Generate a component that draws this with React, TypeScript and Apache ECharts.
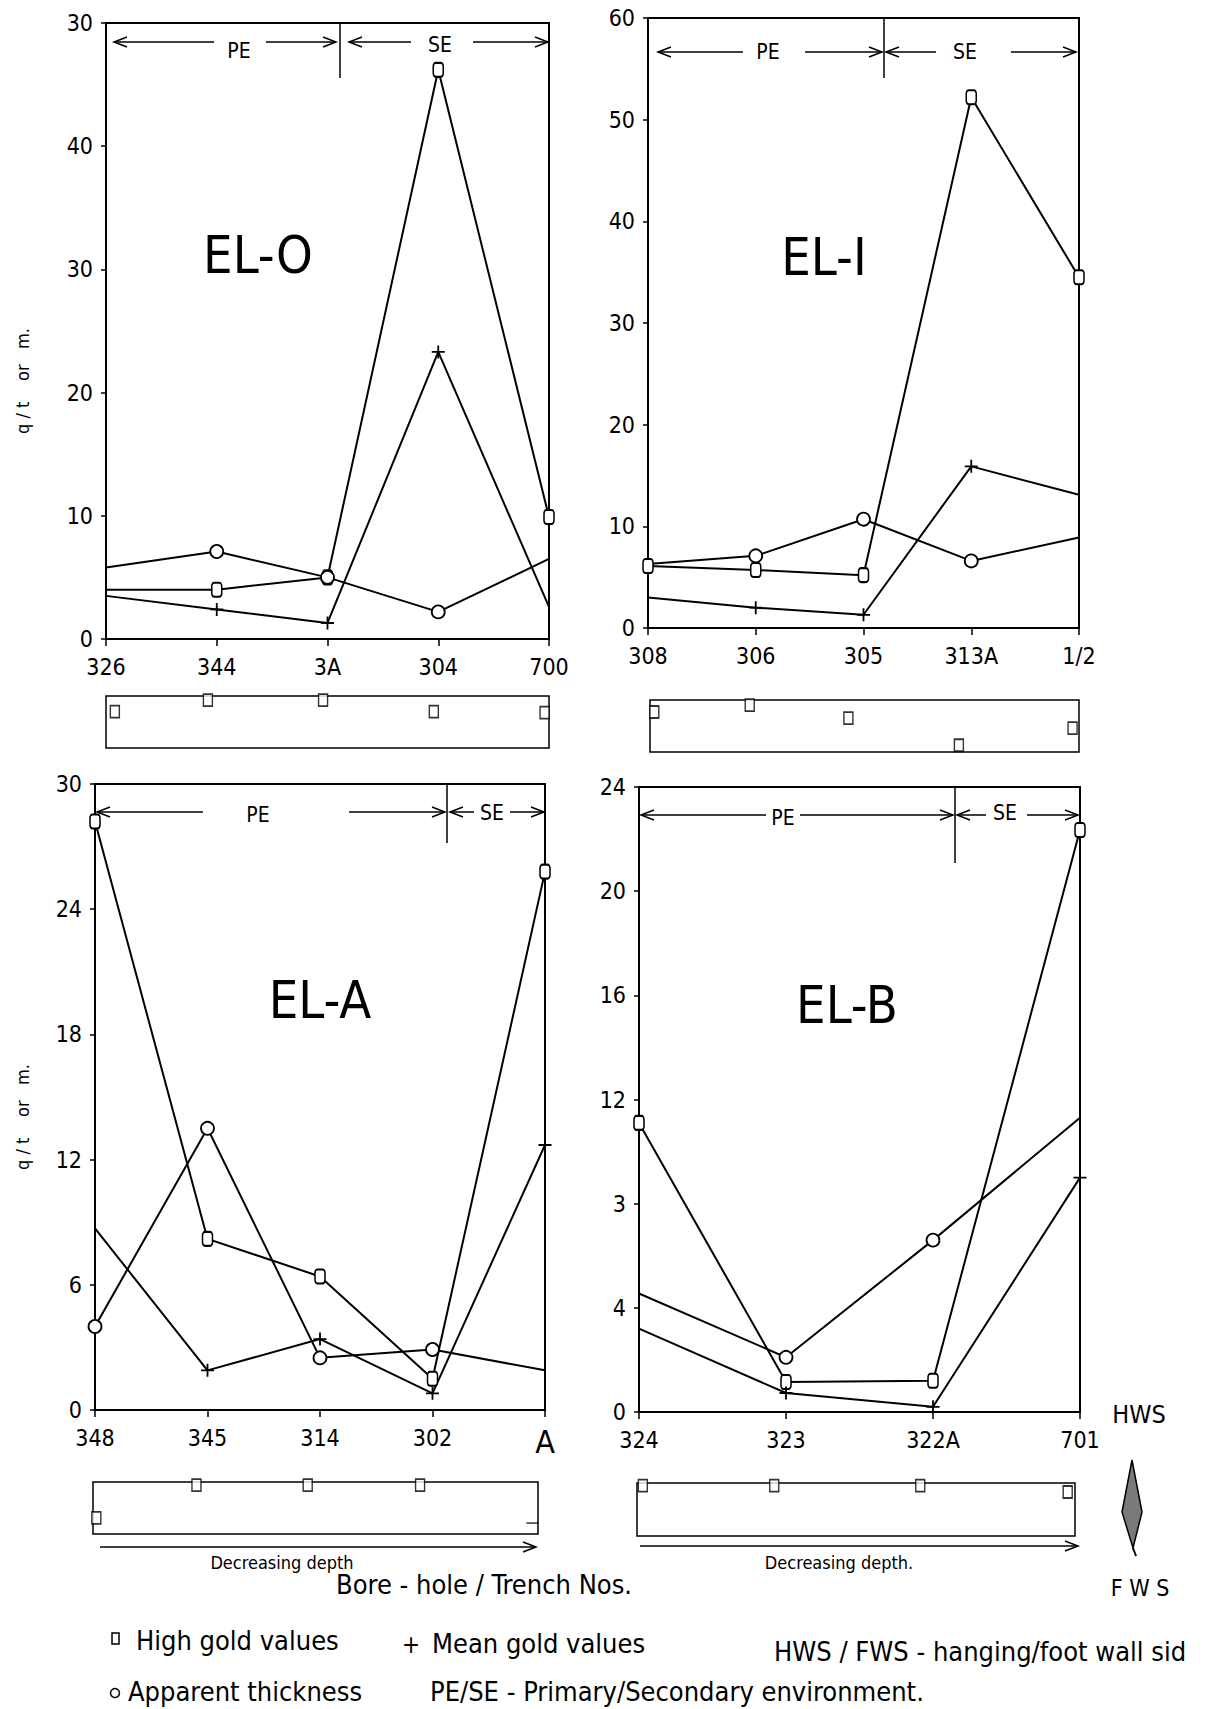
import React, { useEffect, useRef } from "react";
import * as echarts from "echarts";

// ---------------- DATA ----------------
// EL-0
const el0Holes = ["326", "344", "3A", "304", "700"];
const el0High = [4.0, 4.0, 5.0, 46.2, 9.9];
const el0Mean = [3.5, 2.4, 1.3, 23.3, 2.6];
const el0Thick = [5.8, 7.1, 5.0, 2.2, 6.5];
const el0TickLabels = ["0", "10", "20", "30", "40", "30"];
const el0BoxX = [0.08, 0.92, 1.96, 2.96, 3.96];
const el0BoxLevel = [0.7, 0.92, 0.92, 0.7, 0.68];

// EL-1
const el1Holes = ["308", "306", "305", "313A", "1/2"];
const el1High = [6.1, 5.7, 5.2, 52.2, 34.5];
const el1Mean = [3.0, 2.0, 1.3, 15.9, 13.1];
const el1Thick = [6.3, 7.1, 10.7, 6.6, 8.9];
const el1TickLabels = ["0", "10", "20", "30", "40", "50", "60"];
const el1BoxX = [0.04, 0.93, 1.85, 2.88, 3.94];
const el1BoxLevel = [0.77, 0.9, 0.65, 0.13, 0.46];

// EL-A
const elAHoles = ["348", "345", "314", "302", "A"];
const elAHigh = [28.2, 8.2, 6.4, 1.5, 25.8];
const elAMean = [8.7, 1.9, 3.4, 0.8, 12.7];
const elAThick = [4.0, 13.5, 2.5, 2.9, 1.9];
const elATickLabels = ["0", "6", "12", "18", "24", "30"];
const elABoxX = [0.03, 0.93, 1.93, 2.94, 3.95];
const elABoxLevel = [0.31, 0.94, 0.94, 0.94, 0.21];

// EL-B
const elBHoles = ["324", "323", "322A", "701"];
const elBHigh = [11.1, 1.15, 1.2, 22.35];
const elBMean = [3.2, 0.73, 0.2, 9.0];
const elBThick = [4.55, 2.1, 6.6, 11.3];
const elBTickLabels = ["0", "4", "3", "12", "16", "20", "24"];
const elBBoxX = [0.04, 0.94, 1.94, 2.95];
const elBBoxLevel = [0.95, 0.95, 0.95, 0.83];

// ---------------- LAYOUT ----------------
const FONT = "'DejaVu Sans Condensed', 'DejaVu Sans', sans-serif";
const W = 1205;
const H = 1709;

const PLUS = "path://M6,0L6,12M0,6L12,6";

type Panel = {
  title: string;
  holes: string[];
  high: number[];
  mean: number[];
  thick: number[];
  ticks: string[];
  interval: number;
  boxX: number[];
  boxLevel: number[];
  grid: { left: number; top: number; width: number; height: number };
  box: { left: number; top: number; width: number; height: number };
  hide: { high: number[]; mean: number[]; thick: number[] };
  boxDash?: number[];
};

const panels: Panel[] = [
  {
    title: "EL-O",
    holes: el0Holes, high: el0High, mean: el0Mean, thick: el0Thick,
    ticks: el0TickLabels, interval: 10, boxX: el0BoxX, boxLevel: el0BoxLevel,
    grid: { left: 106, top: 23, width: 443, height: 616 },
    box: { left: 106, top: 696, width: 443, height: 52 },
    hide: { high: [0], mean: [0, 4], thick: [0, 4] },
  },
  {
    title: "EL-I",
    holes: el1Holes, high: el1High, mean: el1Mean, thick: el1Thick,
    ticks: el1TickLabels, interval: 10, boxX: el1BoxX, boxLevel: el1BoxLevel,
    grid: { left: 648, top: 18, width: 431, height: 610 },
    box: { left: 650, top: 700, width: 429, height: 52 },
    hide: { high: [], mean: [0, 4], thick: [0, 4] },
  },
  {
    title: "EL-A",
    holes: elAHoles, high: elAHigh, mean: elAMean, thick: elAThick,
    ticks: elATickLabels, interval: 6, boxX: elABoxX, boxLevel: elABoxLevel,
    grid: { left: 95, top: 784, width: 450, height: 626 },
    box: { left: 93, top: 1482, width: 445, height: 52 },
    hide: { high: [], mean: [0], thick: [4] },
    boxDash: [4],
  },
  {
    title: "EL-B",
    holes: elBHoles, high: elBHigh, mean: elBMean, thick: elBThick,
    ticks: elBTickLabels, interval: 4, boxX: elBBoxX, boxLevel: elBBoxLevel,
    grid: { left: 639, top: 787, width: 441, height: 625 },
    box: { left: 637, top: 1483, width: 438, height: 53 },
    hide: { high: [], mean: [0], thick: [0, 3] },
  },
];

const titlePos = [
  [258, 255],
  [824, 257],
  [320, 1000],
  [847, 1005],
];

// arrow rows: [start, gapStart, textX, gapEnd, end]
const arrowRows = [
  { y: 42, ty: 51, divX: 340, divTop: 23, divBot: 78, pe: [114, 214, 239, 266, 336], se: [349, 411, 440, 473, 548], sety: 45 },
  { y: 52, ty: 52, divX: 884, divTop: 18, divBot: 78, pe: [658, 743, 768, 805, 882], se: [886, 936, 965, 1011, 1076], sety: 52 },
  { y: 812, ty: 815, divX: 447, divTop: 784, divBot: 843, pe: [97, 203, 258, 349, 445], se: [450, 474, 492, 510, 544], sety: 813 },
  { y: 815, ty: 818, divX: 955, divTop: 787, divBot: 863, pe: [641, 766, 783, 800, 953], se: [957, 986, 1005, 1027, 1078], sety: 813 },
];

const line = (x1: number, y1: number, x2: number, y2: number, w = 1.5) => ({
  type: "line",
  shape: { x1, y1, x2, y2 },
  style: { stroke: "#000", lineWidth: w },
  silent: true,
});

const head = (x: number, y: number, dir: number) => ({
  type: "polyline",
  shape: { points: [[x - dir * 13, y - 5], [x, y], [x - dir * 13, y + 5]] },
  style: { stroke: "#000", lineWidth: 1.5, fill: null },
  silent: true,
});

const text = (x: number, y: number, t: string, fontSize: number, extra: any = {}) => ({
  type: "text",
  x,
  y,
  rotation: extra.rotation || 0,
  style: {
    text: t,
    fontSize,
    fontFamily: FONT,
    fill: "#000",
    align: extra.align || "center",
    verticalAlign: "middle",
    fontWeight: extra.fontWeight || "normal",
  },
  silent: true,
});

function arrowGraphics() {
  const g: any[] = [];
  arrowRows.forEach((r) => {
    const [a, b, tx, c, d] = r.pe;
    g.push(line(a, r.y, b, r.y), line(c, r.y, d, r.y), head(a, r.y, -1), head(d, r.y, 1));
    g.push(text(tx, r.ty, "PE", 21));
    const [e, f, sx, h, i] = r.se;
    g.push(line(e, r.y, f, r.y), line(h, r.y, i, r.y), head(e, r.y, -1), head(i, r.y, 1));
    g.push(text(sx, r.sety, "SE", 21));
    g.push(line(r.divX, r.divTop, r.divX, r.divBot, 1.5));
  });
  return g;
}

function buildOption() {
  const grid: any[] = [];
  const xAxis: any[] = [];
  const yAxis: any[] = [];
  const series: any[] = [];

  panels.forEach((p) => {
    const gi = grid.length;
    grid.push({ ...p.grid, show: true, borderColor: "#000", borderWidth: 2, containLabel: false });
    xAxis.push({
      type: "category",
      gridIndex: gi,
      data: p.holes,
      boundaryGap: false,
      axisLine: { lineStyle: { color: "#000", width: 2 } },
      axisTick: { show: true, length: 7, lineStyle: { color: "#000", width: 1.5 } },
      axisLabel: {
        color: "#000",
        fontSize: 23,
        fontFamily: FONT,
        margin: 16,
        interval: 0,
        formatter: (v: string) => (v === "A" ? "{big|A}" : v),
        rich: { big: { fontSize: 32, fontFamily: FONT, color: "#000" } },
      },
      splitLine: { show: false },
    });
    const maxV = p.interval * (p.ticks.length - 1);
    yAxis.push({
      type: "value",
      gridIndex: gi,
      min: 0,
      max: maxV,
      interval: p.interval,
      axisLine: { show: true, lineStyle: { color: "#000", width: 2 } },
      axisTick: { show: true, length: 5, lineStyle: { color: "#000", width: 1.5 } },
      axisLabel: {
        color: "#000",
        fontSize: 23,
        fontFamily: FONT,
        margin: 13,
        formatter: (v: number) => p.ticks[Math.round(v / p.interval)] ?? "",
      },
      splitLine: { show: false },
    });

    const mk = (name: string, data: number[], sym: string, size: any, hide: number[], fill: string) => ({
      type: "line",
      name,
      xAxisIndex: gi,
      yAxisIndex: gi,
      data,
      symbol: (_v: any, params: any) => (hide.includes(params.dataIndex) ? "none" : sym),
      symbolSize: size,
      showSymbol: true,
      clip: false,
      lineStyle: { color: "#000", width: 2 },
      itemStyle: { color: fill, borderColor: "#000", borderWidth: 1.8 },
      z: 3,
    });
    series.push(mk("High gold values", p.high, "roundRect", [10, 14], p.hide.high, "#fff"));
    series.push(mk("Mean gold values", p.mean, PLUS, 13, p.hide.mean, "#000"));
    series.push(mk("Apparent thickness", p.thick, "circle", 13, p.hide.thick, "#fff"));

    // lower position box
    const bi = grid.length;
    grid.push({ ...p.box, show: true, borderColor: "#000", borderWidth: 1.5 });
    xAxis.push({ type: "value", gridIndex: bi, min: 0, max: p.holes.length - 1, show: false });
    yAxis.push({ type: "value", gridIndex: bi, min: 0, max: 1, show: false });
    const dash = p.boxDash || [];
    series.push({
      type: "scatter",
      xAxisIndex: bi,
      yAxisIndex: bi,
      clip: false,
      data: p.boxX.map((x, k) => ({
        value: [x, p.boxLevel[k]],
        symbolSize: dash.includes(k) ? [12, 1.5] : [9, 12],
        itemStyle: dash.includes(k) ? { color: "#000", borderWidth: 0 } : undefined,
      })),
      symbol: "rect",
      itemStyle: { color: "#fff", borderColor: "#000", borderWidth: 1.6 },
      z: 3,
    });
  });

  const graphic: any[] = [];
  panels.forEach((p, i) => {
    graphic.push(text(titlePos[i][0], titlePos[i][1], p.title, 52));
  });
  graphic.push(...arrowGraphics());

  // y axis names
  graphic.push(text(22, 381, "q / t    or   m.", 18, { rotation: Math.PI / 2 }));
  graphic.push(text(22, 1117, "q / t    or   m.", 18, { rotation: Math.PI / 2 }));

  // decreasing depth arrows
  graphic.push(line(100, 1547, 536, 1547), head(536, 1547, 1));
  graphic.push(text(282, 1562, "Decreasing depth", 18));
  graphic.push(line(640, 1546, 1078, 1546), head(1078, 1546, 1));
  graphic.push(text(839, 1562, "Decreasing depth.", 18));

  // HWS / FWS and diamond
  graphic.push(text(1139, 1414, "HWS", 25));
  graphic.push(text(1140, 1588, "F W S", 23));
  graphic.push({
    type: "polygon",
    shape: { points: [[1132, 1460], [1142, 1512], [1133, 1548], [1122, 1512]] },
    style: { fill: "#7a7a7a", stroke: "#000", lineWidth: 1.5 },
    silent: true,
  });
  graphic.push(line(1133, 1548, 1136, 1556, 2));

  // bottom titles / legend
  graphic.push(text(484, 1584, "Bore - hole / Trench Nos.", 27));
  graphic.push({
    type: "rect",
    shape: { x: 112, y: 1633, width: 7, height: 11 },
    style: { fill: "#fff", stroke: "#000", lineWidth: 1.5 },
    silent: true,
  });
  graphic.push(text(136, 1640, "High gold values", 27, { align: "left" }));
  graphic.push(text(411, 1645, "+", 24));
  graphic.push(text(432, 1643, "Mean gold values", 27, { align: "left" }));
  graphic.push(text(774, 1651, "HWS / FWS - hanging/foot wall sid", 27, { align: "left" }));
  graphic.push({
    type: "circle",
    shape: { cx: 115, cy: 1693, r: 4.5 },
    style: { fill: "#fff", stroke: "#000", lineWidth: 1.5 },
    silent: true,
  });
  graphic.push(text(128, 1691, "Apparent thickness", 27, { align: "left" }));
  graphic.push(text(430, 1691, "PE/SE - Primary/Secondary environment.", 27, { align: "left" }));

  return {
    animation: false,
    backgroundColor: "#fff",
    grid,
    xAxis,
    yAxis,
    series,
    graphic,
  };
}

export default function App() {
  const ref = useRef<HTMLDivElement>(null);
  useEffect(() => {
    if (!ref.current) return;
    const chart = echarts.init(ref.current, undefined, { renderer: "svg" });
    chart.setOption(buildOption() as any);
    return () => chart.dispose();
  }, []);
  return (
    <div
      ref={ref}
      style={{ position: "absolute", left: 0, top: 0, width: W, height: H, background: "#fff" }}
    />
  );
}
